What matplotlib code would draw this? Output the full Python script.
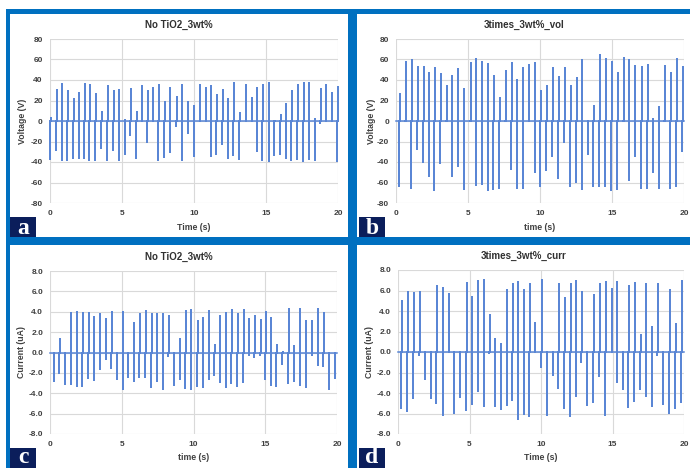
import numpy as np
import matplotlib
matplotlib.use('Agg')
from matplotlib import pyplot as plt
from matplotlib.patches import Rectangle
from matplotlib.ticker import FuncFormatter

# ---- data ----
# panel a: No TiO2_3wt% voltage
t_a = [0.07, 0.48, 0.88, 1.27, 1.66, 2.06, 2.45, 2.79, 3.21, 3.60,
       4.02, 4.43, 4.83, 5.24, 5.64, 6.03, 6.42, 6.79, 7.18, 7.58,
       7.97, 8.38, 8.80, 9.21, 9.61, 10.02, 10.42, 10.81, 11.20, 11.59,
       11.99, 12.40, 12.79, 13.19, 13.60, 14.00, 14.41, 14.80, 15.22, 15.61,
       16.03, 16.42, 16.81, 17.23, 17.62, 18.01, 18.41, 18.80, 19.19, 19.58, 20.00]
pos_a = [4, 31, 37, 30, 22, 28, 37, 36, 27, 10,
         35, 30, 31, 2, 32, 10, 35, 30, 33, 36,
         20, 33, 24, 36, 20, 16, 36, 33, 35, 26,
         31, 22, 38, 9, 36, 23, 33, 36, 38, 1,
         7, 18, 30, 36, 38, 38, 3, 32, 36, 28, 34]
neg_a = [-38, -29, -39, -39, -37, -37, -37, -39, -39, -27,
         -39, -29, -39, -33, -15, -37, 0, -21, 0, -39,
         -36, -31, -6, -39, -13, -35, 0, 0, -35, -33,
         -23, -37, -34, -38, 0, 0, -30, -39, -40, -34,
         -33, -37, -39, -38, -40, -38, -39, -3, 0, 0, -40]

# panel b: 3times_3wt%_vol
t_b = [0.28, 0.69, 1.11, 1.50, 1.92, 2.31, 2.71, 3.12, 3.52, 3.91,
       4.33, 4.75, 5.19, 5.58, 5.99, 6.41, 6.81, 7.22, 7.64, 8.03,
       8.43, 8.84, 9.26, 9.68, 10.07, 10.49, 10.90, 11.30, 11.71, 12.13,
       12.55, 12.94, 13.36, 13.75, 14.17, 14.58, 14.98, 15.39, 15.81, 16.20,
       16.62, 17.06, 17.48, 17.87, 18.29, 18.68, 19.10, 19.49, 19.91]
pos_b = [27, 59, 60, 54, 54, 48, 53, 47, 35, 45,
         52, 32, 58, 61, 59, 57, 45, 23, 50, 58,
         41, 53, 56, 58, 30, 35, 53, 44, 53, 35,
         43, 60, 0, 16, 65, 61, 59, 48, 62, 60,
         55, 54, 56, 3, 15, 55, 48, 61, 54]
neg_b = [-64, -1, -66, -28, -41, -55, -68, -42, -1, -55,
         -45, -67, -1, -63, -62, -68, -67, -66, -1, -48,
         -66, -66, -1, -51, -64, -49, -35, -57, -21, -64,
         -60, -67, -33, -64, -64, -64, -68, -67, -1, -59,
         -35, -66, -66, -51, -66, -1, -66, -64, -30]

# panel c: No TiO2_3wt% current
t_c = [0.30, 0.70, 1.12, 1.47, 1.91, 2.30, 2.70, 3.09, 3.49, 3.91,
       4.30, 4.70, 5.12, 5.51, 5.86, 6.26, 6.67, 7.09, 7.49, 7.88,
       8.28, 8.67, 9.07, 9.46, 9.86, 10.28, 10.67, 11.09, 11.49, 11.88,
       12.28, 12.67, 13.07, 13.49, 13.88, 14.28, 14.67, 15.05, 15.42, 15.81,
       16.23, 16.63, 17.02, 17.44, 17.86, 18.28, 18.70, 19.07, 19.49, 19.88]
pos_c = [0, 1.4, 0, 4.0, 4.1, 4.0, 4.0, 3.6, 3.9, 3.4,
         4.1, 0, 4.1, 0, 3.0, 3.9, 4.2, 3.9, 3.9, 3.9,
         3.7, 0, 1.4, 4.2, 4.3, 3.2, 3.5, 4.2, 0.8, 3.7,
         4.0, 4.3, 3.9, 4.3, 3.4, 3.7, 3.3, 4.1, 3.5, 0.8,
         0.1, 4.4, 0.7, 4.4, 3.2, 3.2, 4.4, 4.0, 0, 0]
neg_c = [-2.9, -2.1, -3.2, -3.2, -3.4, -3.4, -2.6, -2.8, -1.7, -0.7,
         -1.6, -2.7, -3.7, -2.5, -2.9, -2.5, -2.5, -3.5, -2.9, -3.7,
         -0.4, -3.3, -2.7, -3.6, -3.7, -3.4, -3.5, -2.7, -2.3, -3.0,
         -3.5, -3.1, -3.4, -3.0, -0.3, -0.5, -0.3, -2.7, -3.3, -3.4,
         -1.2, -3.1, -2.9, -3.3, -3.5, -0.3, -1.3, -1.4, -3.7, -2.6]

# panel d: 3times_3wt%_curr
t_d = [0.28, 0.70, 1.12, 1.52, 1.91, 2.33, 2.73, 3.17, 3.57, 3.99,
       4.41, 4.81, 5.20, 5.60, 6.02, 6.42, 6.81, 7.21, 7.63, 8.03,
       8.42, 8.82, 9.22, 9.61, 10.04, 10.46, 10.85, 11.25, 11.67, 12.07,
       12.46, 12.86, 13.28, 13.70, 14.12, 14.52, 14.94, 15.33, 15.75, 16.15,
       16.55, 16.97, 17.36, 17.78, 18.18, 18.60, 19.02, 19.42, 19.84]
pos_d = [5.1, 6.0, 5.9, 6.0, 0, 0, 6.5, 6.3, 5.8, 0,
         0, 6.8, 5.5, 7.0, 7.1, 3.7, 1.4, 0.9, 6.1, 6.7,
         6.9, 6.1, 6.7, 2.9, 7.1, 0, 0, 6.7, 5.4, 6.7,
         7.0, 6.0, 0, 5.7, 6.7, 6.9, 6.2, 6.9, 0, 6.5,
         6.8, 1.8, 6.7, 2.5, 6.7, 0, 6.1, 2.8, 7.0]
neg_d = [-5.6, -5.9, -4.6, -0.4, -2.7, -4.6, -5.1, -6.2, 0, -6.0,
         -4.5, -5.8, -5.2, -3.9, -5.4, -0.2, -5.4, -5.7, -5.3, -4.8,
         -6.6, -6.1, -6.3, 0, -1.6, -6.2, -2.3, -3.6, -5.6, -6.3,
         -4.4, -1.1, -5.3, -5.0, -2.4, -6.2, 0, -3.0, -3.7, -5.5,
         -4.9, -3.7, -4.4, -5.4, -0.4, -5.2, -6.0, -5.6, -5.0]

titles = ['No TiO2_3wt%', '3times_3wt%_vol', 'No TiO2_3wt%', '3times_3wt%_curr']
xlabels = ['Time (s)', 'time (s)', 'time (s)', 'Time (s)']
ylabels = ['Voltage (V)', 'Voltage (V)', 'Current (uA)', 'Current (uA)']
letters = ['a', 'b', 'c', 'd']

W, H = 690, 468
BLUE = '#0070C0'
NAVY = '#0B1E5B'
LINE = '#5A86D5'
GRID = '#D9D9D9'
TXT = '#404040'

plt.rcParams['font.family'] = ['Liberation Sans', 'DejaVu Sans']


def pulse_xy(t, p, n, d=0.04):
    xs, ys = [0.0], [0.0]
    for ti, pi, ni in zip(t, p, n):
        xs += [ti - d, ti - d, ti - d, ti, ti, ti]
        ys += [0, ni, 0, 0, pi, 0]
    xs.append(20.0)
    ys.append(0.0)
    return xs, ys


def px_axes(fig, x0, y0, x1, y1):
    return fig.add_axes([x0 / W, 1 - y1 / H, (x1 - x0) / W, (y1 - y0) / H])


fig = plt.figure(figsize=(W / 100, H / 100), dpi=100)

boxes = [(49.7, 39, 338, 203), (396, 39, 684, 203),
         (50, 271, 337, 434), (398, 270, 684, 434)]
series = [(t_a, pos_a, neg_a), (t_b, pos_b, neg_b),
          (t_c, pos_c, neg_c), (t_d, pos_d, neg_d)]
title_x = [179, 524, 179, 524]
ylab_x = [27, 376, 26, 374]

for i in range(4):
    ax = px_axes(fig, *boxes[i])
    t, p, n = series[i]
    xs, ys = pulse_xy(t, p, n)
    ax.plot(xs, ys, color=LINE, lw=1.1, solid_joinstyle='miter', zorder=3, clip_on=False)
    ax.set_xlim(0, 20)
    ax.set_xticks([0, 5, 10, 15, 20])
    if i < 2:
        ax.set_ylim(-80, 80)
        ax.set_yticks(np.arange(-80, 81, 20))
        ax.yaxis.set_major_formatter(FuncFormatter(lambda v, pos: '%d' % v))
    else:
        ax.set_ylim(-8, 8)
        ax.set_yticks(np.arange(-8, 8.1, 2))
        ax.yaxis.set_major_formatter(FuncFormatter(lambda v, pos: '%.1f' % v))
    ax.grid(True, color=GRID, lw=0.8)
    ax.set_axisbelow(True)
    for s in ax.spines.values():
        s.set_visible(False)
    ax.tick_params(length=0, pad=5, labelsize=6, labelcolor=TXT)
    for lab in ax.get_xticklabels() + ax.get_yticklabels():
        lab.set_fontweight('bold')
    x0, y0, x1, y1 = boxes[i]
    ax.set_title(titles[i], fontsize=7, fontweight='bold', color='#303030',
                 x=(title_x[i] - x0) / (x1 - x0), pad=8)
    ax.set_xlabel(xlabels[i], fontsize=6.3, fontweight='bold', color=TXT, labelpad=4)
    ax.set_ylabel(ylabels[i], fontsize=6.3, fontweight='bold', color=TXT)
    ax.yaxis.set_label_coords((ylab_x[i] - x0) / (x1 - x0), 0.5)

# blue frame
for (x, y, w, h) in [(6, 9, 684, 4.5), (6, 9, 4, 459), (348, 9, 9, 459), (6, 237, 684, 8)]:
    fig.add_artist(Rectangle((x / W, 1 - (y + h) / H), w / W, h / H,
                             transform=fig.transFigure, color=BLUE, lw=0))

# letter tags
for (x, y, base, letter) in [(10, 217, 234, 'a'), (359, 217, 234, 'b'),
                             (10, 448, 463, 'c'), (359, 448, 463, 'd')]:
    fig.add_artist(Rectangle((x / W, 1 - (y + 20) / H), 26 / W, 20 / H,
                             transform=fig.transFigure, color=NAVY, lw=0))
    fig.text((x + 13) / W, 1 - base / H, letter, color='white',
             fontsize=17, fontweight='bold', family='Liberation Serif',
             ha='center', va='baseline')

plt.savefig('out.png', dpi=100)
